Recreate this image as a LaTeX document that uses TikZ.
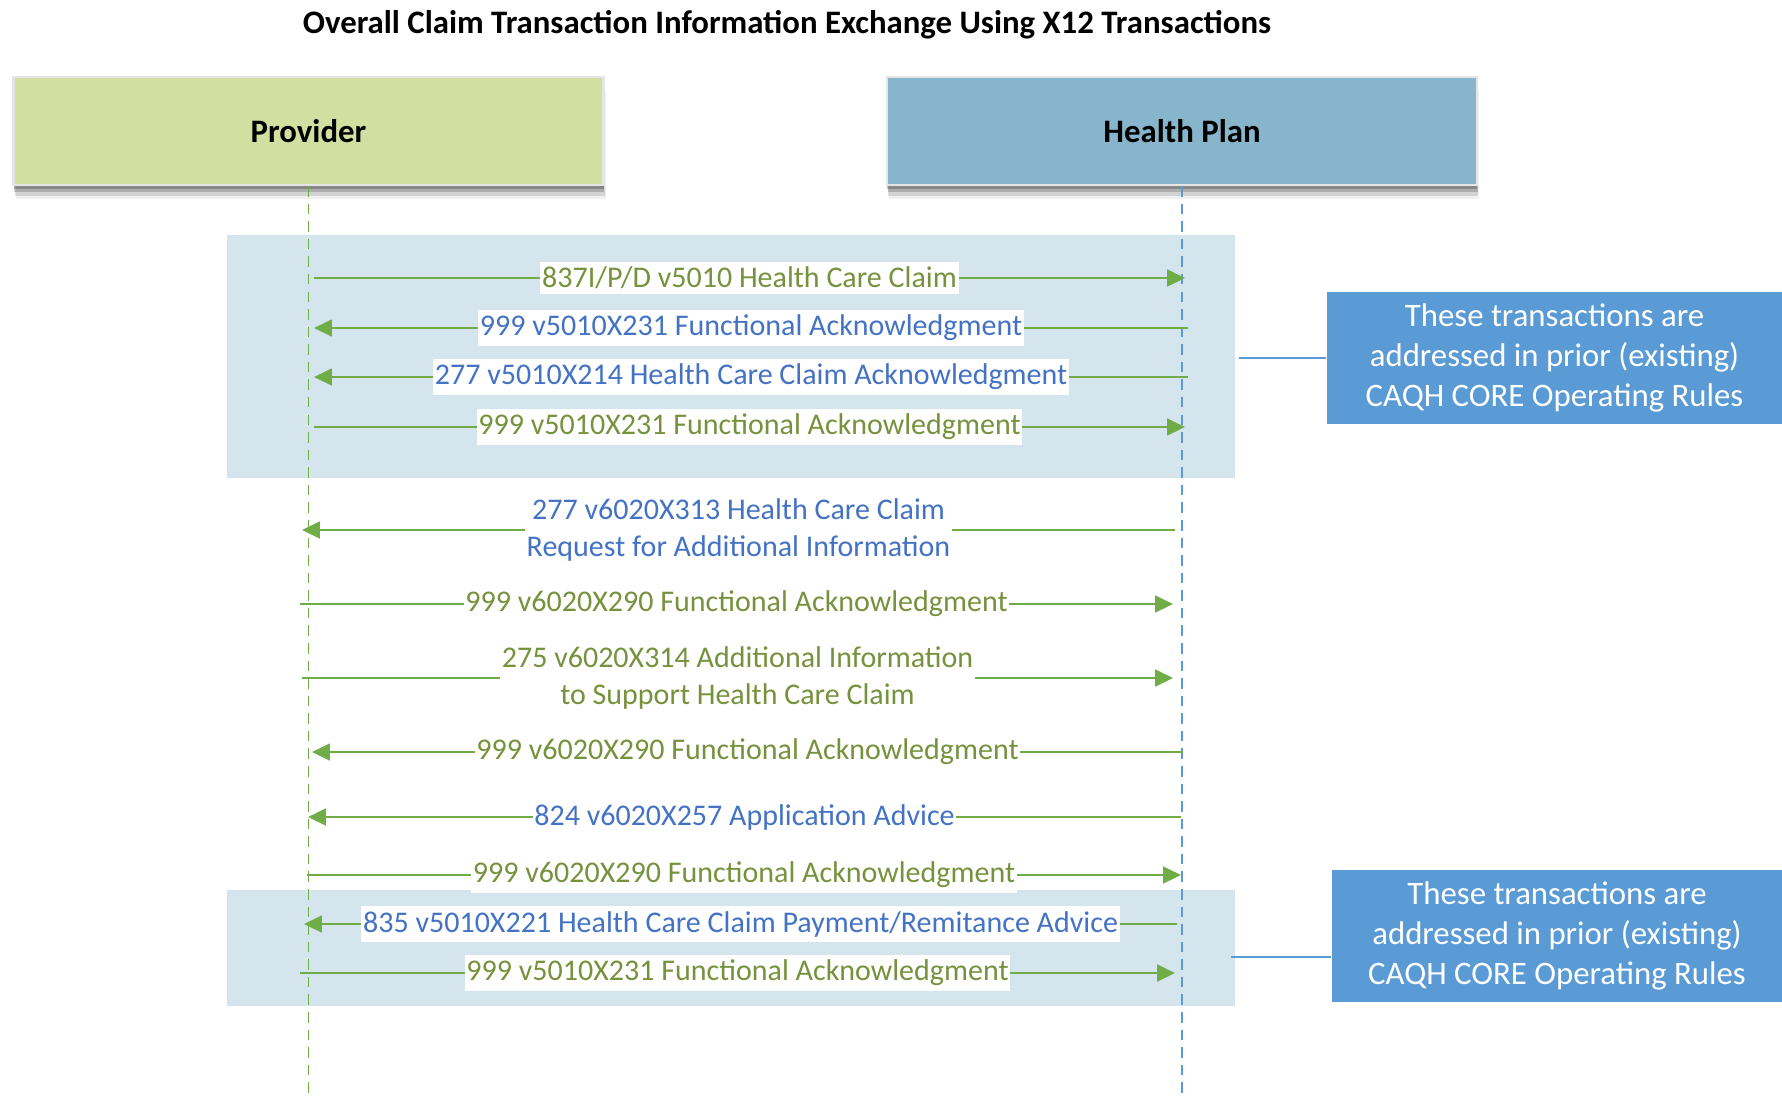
\documentclass[tikz,border=0pt]{standalone}
\usepackage{fontspec}
\setmainfont{Carlito}
\usepackage{xcolor}
\usetikzlibrary{arrows.meta, positioning, shadows}

\definecolor{provgreen}{RGB}{211,223,160}
\definecolor{planblue}{RGB}{134,181,204}
\definecolor{bandblue}{RGB}{213,229,238}
\definecolor{noteblue}{RGB}{91,155,213}
\definecolor{msggreen}{RGB}{112,173,71}
\definecolor{txtolive}{RGB}{118,146,60}
\definecolor{txtblue}{RGB}{68,114,196}

\begin{document}
\begin{tikzpicture}[>={Triangle[length=5.1pt,width=4.8pt]},
				party/.style={minimum width=5.9cm, minimum height=1.08cm, draw=white!90!black, line width=0.6pt,
					font=\fontsize{9.33pt}{11pt}\selectfont\bfseries,
					drop shadow={shadow xshift=0.6pt, shadow yshift=-4pt, fill=black, opacity=.06},
					drop shadow={shadow xshift=0.4pt, shadow yshift=-3pt, fill=black, opacity=.12},
					drop shadow={shadow xshift=0.2pt, shadow yshift=-2pt, fill=black, opacity=.18},
					drop shadow={shadow xshift=0pt, shadow yshift=-1pt, fill=black, opacity=.22}},
				msg/.style={draw=msggreen, line width=0.6pt},
				lbl/.style={fill=white, inner xsep=0.5pt, inner ysep=1.5pt, align=center,
					font=\fontsize{8.54pt}{10.4pt}\selectfont},
				life/.style={dash pattern=on 3pt off 2pt, line width=0.35pt},
				note/.style={fill=noteblue, text=white, align=center, minimum height=1.22cm,
					font=\fontsize{9.33pt}{11.4pt}\selectfont},
				link/.style={draw=noteblue, line width=0.5pt}]
				\useasboundingbox (0,0) rectangle (17.82,-10.96);

				\node at (7.87,-0.25) (title) [font=\fontsize{9.33pt}{11pt}\selectfont\bfseries]
					{Overall Claim Transaction Information Exchange Using X12 Transactions};

				% shaded groups of existing transactions
				\fill[bandblue] (2.27,-2.35) rectangle (12.35,-4.78);
				\fill[bandblue] (2.27,-8.90) rectangle (12.35,-10.06);

				% the two parties and their lifelines
				\node at (3.085,-1.31) (prov) [party, fill=provgreen] {Provider};
				\node at (11.82,-1.31) (plan) [party, fill=planblue] {Health Plan};
				\coordinate (provend) at (3.085,-10.96);
				\coordinate (planend) at (11.82,-10.96);
				\draw[life, msggreen] (prov.south) -- (provend);
				\draw[life, noteblue] (plan.south) -- (planend);

				% message end points
				\coordinate (p1) at (3.14,-2.78);  \coordinate (h1) at (11.85,-2.78);
				\coordinate (p2) at (3.14,-3.28);  \coordinate (h2) at (11.88,-3.28);
				\coordinate (p3) at (3.14,-3.77);  \coordinate (h3) at (11.88,-3.77);
				\coordinate (p4) at (3.14,-4.27);  \coordinate (h4) at (11.85,-4.27);
				\coordinate (p5) at (3.02,-5.30);  \coordinate (h5) at (11.75,-5.30);
				\coordinate (p6) at (3.00,-6.04);  \coordinate (h6) at (11.73,-6.04);
				\coordinate (p7) at (3.02,-6.78);  \coordinate (h7) at (11.73,-6.78);
				\coordinate (p8) at (3.12,-7.52);  \coordinate (h8) at (11.83,-7.52);
				\coordinate (p9) at (3.08,-8.17);  \coordinate (h9) at (11.81,-8.17);
				\coordinate (p10) at (3.07,-8.75); \coordinate (h10) at (11.81,-8.75);
				\coordinate (p11) at (3.04,-9.24); \coordinate (h11) at (11.77,-9.24);
				\coordinate (p12) at (3.00,-9.73); \coordinate (h12) at (11.75,-9.73);

				% messages
				\draw[msg, ->] (p1) -- node (m1) [lbl, text=txtolive] {837I/P/D v5010 Health Care Claim} (h1);
				\draw[msg, ->] (h2) -- node (m2) [lbl, text=txtblue] {999 v5010X231 Functional Acknowledgment} (p2);
				\draw[msg, ->] (h3) -- node (m3) [lbl, text=txtblue] {277 v5010X214 Health Care Claim Acknowledgment} (p3);
				\draw[msg, ->] (p4) -- node (m4) [lbl, text=txtolive] {999 v5010X231 Functional Acknowledgment} (h4);
				\draw[msg, ->] (h5) -- node (m5) [lbl, text=txtblue] {277 v6020X313 Health Care Claim\\Request for Additional Information} (p5);
				\draw[msg, ->] (p6) -- node (m6) [lbl, text=txtolive] {999 v6020X290 Functional Acknowledgment} (h6);
				\draw[msg, ->] (p7) -- node (m7) [lbl, text=txtolive] {275 v6020X314 Additional Information\\to Support Health Care Claim} (h7);
				\draw[msg, ->] (h8) -- node (m8) [lbl, text=txtolive] {999 v6020X290 Functional Acknowledgment} (p8);
				\draw[msg, ->] (h9) -- node (m9) [lbl, text=txtblue] {824 v6020X257 Application Advice} (p9);
				\draw[msg, ->] (p10) -- node (m10) [lbl, text=txtolive] {999 v6020X290 Functional Acknowledgment} (h10);
				\draw[msg, ->] (h11) -- node (m11) [lbl, text=txtblue] {835 v5010X221 Health Care Claim Payment/Remitance Advice} (p11);
				\draw[msg, ->] (p12) -- node (m12) [lbl, text=txtolive] {999 v5010X231 Functional Acknowledgment} (h12);

				% side notes
				\node at (15.545,-3.58) (note1) [note, minimum width=4.55cm]
					{These transactions are\\addressed in prior (existing)\\CAQH CORE Operating Rules};
				\node at (15.57,-9.36) (note2) [note, minimum width=4.5cm]
					{These transactions are\\addressed in prior (existing)\\CAQH CORE Operating Rules};
				\coordinate (b1) at (12.39,-3.58);
				\coordinate (b2) at (12.31,-9.57);
				\draw[link] (b1) -- (b1 -| note1.west);
				\draw[link] (b2) -- (b2 -| note2.west);
			\end{tikzpicture}
\end{document}
